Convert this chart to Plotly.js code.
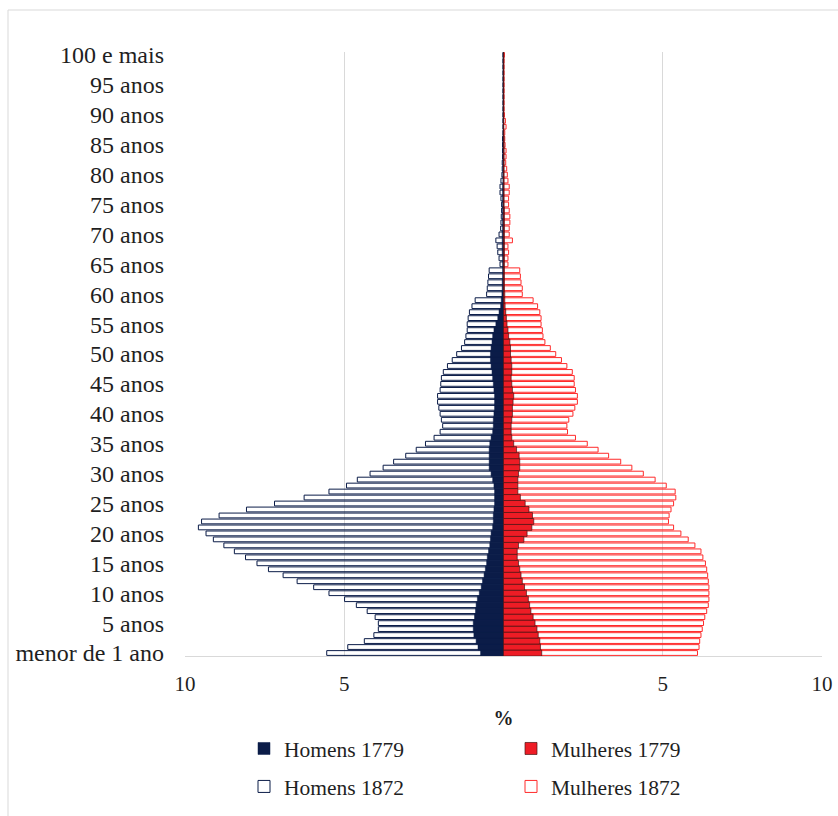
<!DOCTYPE html>
<html>
<head>
<meta charset="utf-8">
<script src="https://cdn.plot.ly/plotly-3.0.1.min.js"></script>
<style>
  html, body { margin: 0; padding: 0; background: #ffffff; }
  #chart { width: 838px; height: 816px; }
</style>
</head>
<body>
<div id="chart"></div>
<script>
// Ages 0..100 (single years)
const ages = Array.from({length: 101}, (_, i) => i);

// Tick labels on the vertical axis (every 5 years)
const ageTickVals = [0,5,10,15,20,25,30,35,40,45,50,55,60,65,70,75,80,85,90,95,100];
const ageTickText = ["menor de 1 ano","5 anos","10 anos","15 anos","20 anos","25 anos","30 anos","35 anos",
  "40 anos","45 anos","50 anos","55 anos","60 anos","65 anos","70 anos","75 anos","80 anos","85 anos",
  "90 anos","95 anos","100 e mais"];

// Percent of population, by single year of age (0..100)
const homens1872 = [
  5.55,4.89,4.37,4.07,3.93,3.93,4.03,4.28,4.62,4.99,
  5.48,5.96,6.48,6.92,7.38,7.74,8.10,8.45,8.78,9.11,
  9.34,9.58,9.48,8.93,8.07,7.19,6.26,5.48,4.93,4.59,
  4.19,3.78,3.45,3.07,2.74,2.45,2.18,1.99,1.91,1.95,
  1.99,2.03,2.07,2.07,1.99,1.97,1.95,1.89,1.76,1.61,
  1.47,1.32,1.22,1.18,1.14,1.14,1.11,1.07,0.99,0.89,
  0.53,0.51,0.49,0.47,0.45,0.11,0.14,0.18,0.20,0.24,
  0.14,0.09,0.08,0.07,0.06,0.06,0.08,0.11,0.11,0.08,
  0.05,0.04,0.04,0.03,0.03,0.03,0.03,0.02,0.02,0.02,
  0.02,0.02,0.02,0.02,0.02,0.02,0.02,0.02,0.02,0.02,
  0.02
];
const mulheres1872 = [
  6.09,6.14,6.16,6.20,6.24,6.28,6.32,6.38,6.43,6.45,
  6.45,6.45,6.43,6.41,6.38,6.34,6.26,6.20,6.01,5.80,
  5.57,5.34,5.18,5.20,5.26,5.34,5.41,5.39,5.11,4.76,
  4.39,4.03,3.68,3.30,2.97,2.63,2.26,2.01,1.99,2.05,
  2.18,2.24,2.32,2.32,2.26,2.22,2.22,2.16,1.99,1.82,
  1.64,1.47,1.30,1.24,1.22,1.18,1.18,1.14,1.07,0.93,
  0.59,0.59,0.55,0.53,0.51,0.14,0.14,0.16,0.14,0.28,
  0.18,0.18,0.20,0.20,0.18,0.16,0.16,0.18,0.18,0.14,
  0.12,0.10,0.07,0.08,0.08,0.05,0.04,0.04,0.08,0.06,
  0.03,0.02,0.02,0.02,0.02,0.02,0.02,0.02,0.02,0.02,
  0.03
];
const homens1779 = [
  0.72,0.80,0.86,0.93,0.95,0.95,0.91,0.88,0.86,0.82,
  0.76,0.70,0.66,0.61,0.57,0.53,0.51,0.47,0.43,0.41,
  0.39,0.34,0.32,0.32,0.30,0.28,0.28,0.28,0.30,0.34,
  0.39,0.45,0.45,0.45,0.45,0.43,0.39,0.34,0.32,0.32,
  0.30,0.28,0.28,0.28,0.30,0.32,0.34,0.36,0.39,0.41,
  0.41,0.39,0.36,0.34,0.30,0.24,0.18,0.14,0.09,0.07,
  0.05,0.04,0.04,0.03,0.03,0.03,0.03,0.04,0.04,0.04,
  0.04,0.03,0.03,0.03,0.03,0.03,0.03,0.03,0.03,0.02,
  0.02,0.02,0.02,0.02,0.02,0.02,0.02,0.01,0.01,0.01,
  0.01,0.01,0.01,0.01,0.01,0.01,0.01,0.01,0.01,0.01,
  0.01
];
const mulheres1779 = [
  1.20,1.16,1.14,1.09,1.05,0.99,0.93,0.86,0.82,0.78,
  0.72,0.66,0.59,0.55,0.51,0.47,0.43,0.43,0.47,0.64,
  0.74,0.89,0.95,0.91,0.80,0.68,0.53,0.45,0.45,0.45,
  0.47,0.51,0.51,0.49,0.41,0.32,0.26,0.24,0.24,0.26,
  0.28,0.28,0.30,0.32,0.28,0.26,0.24,0.26,0.26,0.24,
  0.22,0.22,0.20,0.16,0.14,0.11,0.09,0.07,0.05,0.04,
  0.04,0.03,0.03,0.03,0.03,0.03,0.03,0.03,0.03,0.03,
  0.03,0.03,0.03,0.03,0.03,0.02,0.02,0.02,0.02,0.02,
  0.02,0.02,0.02,0.02,0.02,0.02,0.02,0.01,0.01,0.01,
  0.01,0.01,0.01,0.01,0.01,0.01,0.01,0.01,0.01,0.01,
  0.01
];

const NAVY = '#0b1c48';
const RED = '#ee1c25';
const RED_LINE = '#ff2a2a';
const SERIF = 'Liberation Serif, Times New Roman, serif';

const neg = a => a.map(v => -v);

const traces = [
  { type: 'bar', orientation: 'h', name: 'Homens 1872', y: ages, x: neg(homens1872),
    width: 0.8, marker: { color: 'rgba(255,255,255,0)', line: { color: NAVY, width: 1 } },
    legend: 'legend', legendgroup: 'h1872', legendrank: 2, hoverinfo: 'skip' },
  { type: 'bar', orientation: 'h', name: 'Mulheres 1872', y: ages, x: mulheres1872,
    width: 0.8, marker: { color: 'rgba(255,255,255,0)', line: { color: RED_LINE, width: 1 } },
    legend: 'legend2', legendgroup: 'm1872', legendrank: 2, hoverinfo: 'skip' },
  { type: 'bar', orientation: 'h', name: 'Homens 1779', y: ages, x: neg(homens1779),
    width: 1.0, marker: { color: NAVY, line: { color: NAVY, width: 0.5 } },
    legend: 'legend', legendgroup: 'h1779', legendrank: 1, hoverinfo: 'skip' },
  { type: 'bar', orientation: 'h', name: 'Mulheres 1779', y: ages, x: mulheres1779,
    width: 1.0, marker: { color: RED, line: { color: '#4a1414', width: 0.7 } },
    legend: 'legend2', legendgroup: 'm1779', legendrank: 1, hoverinfo: 'skip' }
];

// pixel -> paper helpers (relative to plot area)
const PL = 185, PR = 822, PT = 52, PB = 656;
const px = v => (v - PL) / (PR - PL);
const py = v => (PB - v) / (PB - PT);

const legendFont = { family: SERIF, size: 21.5, color: '#1f1f1f' };

const layout = {
  width: 838, height: 816,
  margin: { l: PL, r: 838 - PR, t: PT, b: 816 - PB, pad: 0, autoexpand: false },
  paper_bgcolor: '#ffffff', plot_bgcolor: '#ffffff',
  barmode: 'overlay',
  showlegend: true,
  font: { family: SERIF, color: '#1f1f1f' },
  xaxis: {
    range: [-10, 10],
    tickvals: [-10, -5, 5, 10],
    ticktext: ['10', '5', '5', '10'],
    showgrid: true, gridcolor: '#d9d9d9', gridwidth: 1,
    zeroline: true, zerolinecolor: '#c4c4c4', zerolinewidth: 1,
    showline: true, linecolor: '#d9d9d9', linewidth: 1,
    ticks: '', ticklabelstandoff: 9,
    tickfont: { family: SERIF, size: 21, color: '#1f1f1f' },
    layer: 'above traces',
    title: { text: '<b>%</b>', font: { family: SERIF, size: 20, color: '#1f1f1f' }, standoff: 15 },
    fixedrange: true
  },
  yaxis: {
    range: [-0.5, 100.5],
    tickvals: ageTickVals,
    ticktext: ageTickText,
    showgrid: false, zeroline: false, showline: false,
    ticks: '', ticklabelstandoff: 20,
    tickfont: { family: SERIF, size: 24, color: '#1f1f1f' },
    fixedrange: true
  },
  legend: {
    orientation: 'v',
    x: px(244), xanchor: 'left',
    y: py(728), yanchor: 'top',
    font: legendFont,
    tracegroupgap: 7,
    bgcolor: 'rgba(0,0,0,0)'
  },
  legend2: {
    orientation: 'v',
    x: px(511), xanchor: 'left',
    y: py(728), yanchor: 'top',
    font: legendFont,
    tracegroupgap: 7,
    bgcolor: 'rgba(0,0,0,0)'
  },
  shapes: [
    { type: 'line', xref: 'paper', yref: 'paper', x0: px(8), x1: px(8), y0: py(10), y1: py(816),
      line: { color: '#d9d9d9', width: 1 } },
    { type: 'line', xref: 'paper', yref: 'paper', x0: px(8), x1: px(838), y0: py(10), y1: py(10),
      line: { color: '#d9d9d9', width: 1 } }
  ]
};

Plotly.newPlot('chart', traces, layout, { displayModeBar: false, staticPlot: true });
</script>
</body>
</html>
